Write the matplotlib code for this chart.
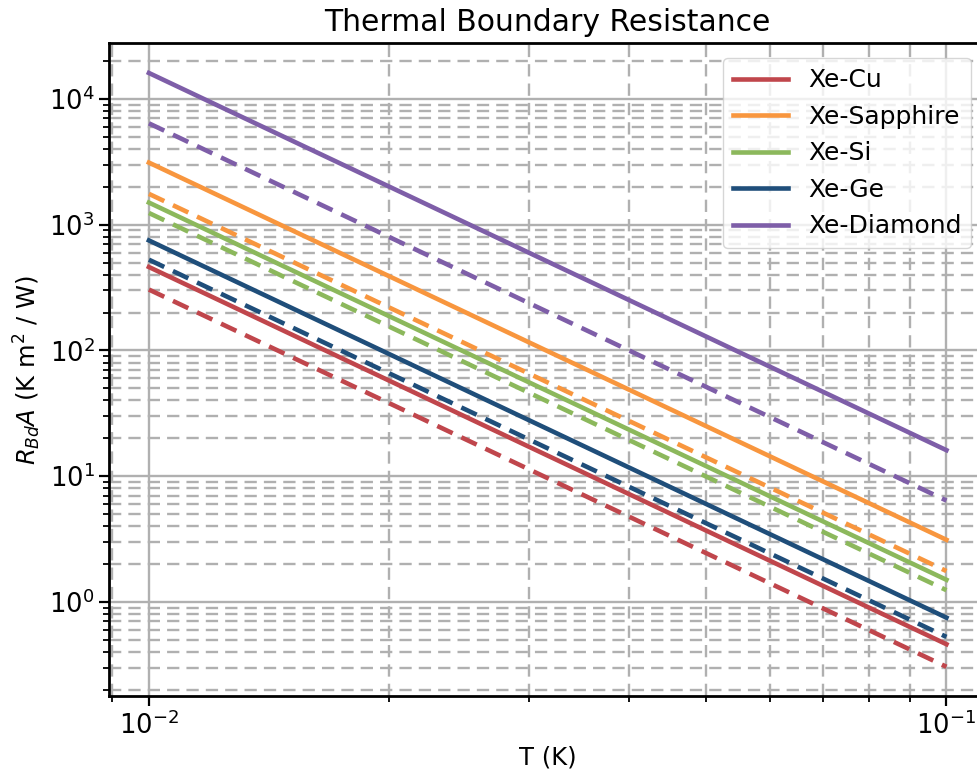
import matplotlib.pyplot as plt

# temperature range (K)
T = [0.01, 0.1]

materials = ["Xe-Cu", "Xe-Sapphire", "Xe-Si", "Xe-Ge", "Xe-Diamond"]
colors = ["#c0464c", "#f8963e", "#8cb85c", "#1f4e7a", "#7e5ea8"]

# R_Bd*A at T = 0.01 K and T = 0.1 K (solid and dashed curves)
solid = [[461, 0.461], [3120, 3.12], [1500, 1.50], [750, 0.75], [16100, 16.1]]
dashed = [[305, 0.305], [1760, 1.76], [1240, 1.24], [527, 0.527], [6400, 6.4]]

fig = plt.figure(figsize=(9.78, 7.73), dpi=100)
ax = fig.add_axes([0.1115, 0.099, 0.897, 0.845])

for name, c, s in zip(materials, colors, solid):
    ax.loglog(T, s, color=c, lw=3.3, label=name)
for c, d in zip(colors, dashed):
    ax.loglog(T, d, color=c, lw=3.3, ls=(0, (3.7, 2.1)))

ax.grid(True, which="major", color="#b0b0b0", lw=1.7)
ax.grid(True, which="minor", color="#b0b0b0", lw=1.7, ls=(0, (5.2, 3)))

ax.set_title("Thermal Boundary Resistance", fontsize=21.5, pad=9)
ax.set_xlabel("T (K)", fontsize=17.5)
ax.set_ylabel(r"$R_{Bd}A$ (K m$^2$ / W)", fontsize=17.5)
ax.tick_params(which="major", labelsize=18.5, width=1.6, length=7)
ax.tick_params(which="minor", width=1.3, length=4)
for sp in ax.spines.values():
    sp.set_linewidth(2)

ax.legend(loc="upper right", fontsize=18, handlelength=2.2, borderaxespad=0.6)

fig.savefig("out.png", dpi=100)
